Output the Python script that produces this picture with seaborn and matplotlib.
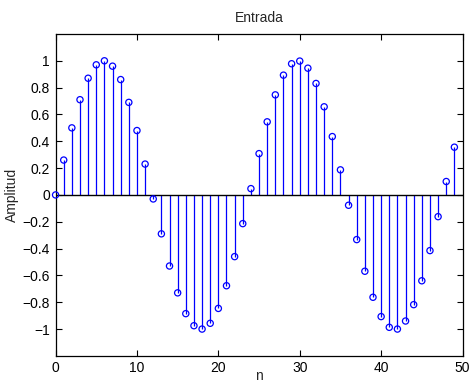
import matplotlib
matplotlib.use("Agg")
import matplotlib.pyplot as plt
import seaborn as sns
import pandas as pd
import numpy as np

n = list(range(50))
amplitud = [0.0, 0.26, 0.50, 0.71, 0.87, 0.97, 1.00, 0.96, 0.86, 0.69,
            0.48, 0.23, -0.03, -0.29, -0.53, -0.73, -0.885, -0.975, -1.00, -0.957,
            -0.846, -0.677, -0.46, -0.214, 0.047, 0.308, 0.545, 0.746, 0.893, 0.978,
            0.998, 0.945, 0.831, 0.657, 0.435, 0.187, -0.077, -0.333, -0.569, -0.763,
            -0.907, -0.987, -1.00, -0.94, -0.818, -0.64, -0.415, -0.162, 0.10, 0.356]
xticks = [0, 10, 20, 30, 40, 50]
yticks = [-1, -0.8, -0.6, -0.4, -0.2, 0, 0.2, 0.4, 0.6, 0.8, 1]
ytick_labels = ["\u22121", "\u22120.8", "\u22120.6", "\u22120.4", "\u22120.2", "0",
                "0.2", "0.4", "0.6", "0.8", "1"]

sns.set_style("white")
plt.rcParams['font.family'] = ['Liberation Sans', 'DejaVu Sans']

df = pd.DataFrame({"n": n, "Amplitud": amplitud})

fig = plt.figure(figsize=(4.71, 3.86), dpi=100)
ax = fig.add_axes([0.118, 0.078, 0.864, 0.834])

ax.vlines(df["n"], 0, df["Amplitud"], colors="#0000ff", linewidth=0.9, zorder=2)
ax.axhline(0, color="black", linewidth=1.0, zorder=3)
sns.scatterplot(data=df, x="n", y="Amplitud", ax=ax, marker="o", s=20,
                facecolors="none", edgecolor="#0000ff", linewidth=0.9, zorder=4,
                clip_on=False)

ax.set_xlim(0, 50)
ax.set_ylim(-1.2, 1.2)
ax.set_xticks(xticks)
ax.set_yticks(yticks)
ax.set_yticklabels(ytick_labels)
ax.tick_params(direction="in", length=4, width=0.8, labelsize=10,
               top=True, right=True, bottom=True, left=True, colors="black")
ax.tick_params(axis="y", pad=4)
ax.tick_params(axis="x", pad=4)
for s in ax.spines.values():
    s.set_color("black")
    s.set_linewidth(0.9)
    s.set_visible(True)

ax.set_title("Entrada", fontsize=10, pad=8.5)
ax.set_xlabel("n", fontsize=10)
ax.set_ylabel("Amplitud", fontsize=10)
ax.xaxis.set_label_coords(0.5, -0.064)
ax.xaxis.label.set_va("center")
ax.yaxis.set_label_coords(-0.107, 0.5)
ax.yaxis.label.set_va("center")

fig.savefig("out.png", dpi=100)
